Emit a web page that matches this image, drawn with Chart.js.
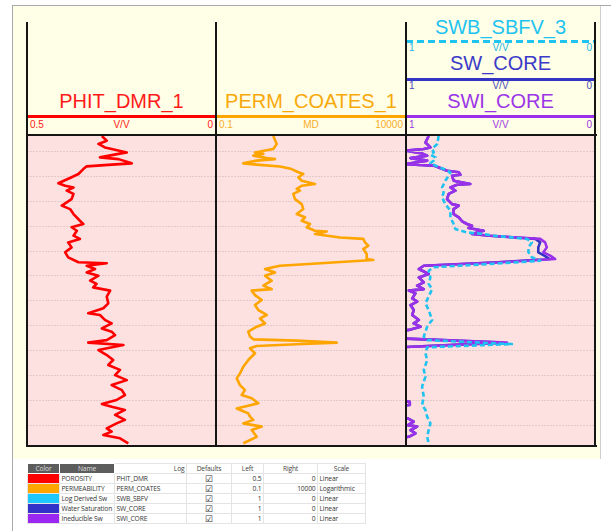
<!DOCTYPE html>
<html>
<head>
<meta charset="utf-8">
<script src="https://cdn.jsdelivr.net/npm/chart.js@4.4.0/dist/chart.umd.min.js"></script>
<style>
body { margin:0; width:611px; height:531px; overflow:hidden; position:relative; background:#fff; font-family:"Liberation Sans", Arial, sans-serif; }
#frame { position:absolute; left:12px; top:5px; width:600px; height:530px; border-left:1px solid #a9a9a9; border-top:1px solid #a9a9a9; }
#panel { position:absolute; left:13px; top:6px; width:587px; height:453px; background:#fffee6; border-right:1px solid #cfcfcf; }
.vline { position:absolute; top:22px; width:2px; height:425px; background:#151515; z-index:5; }
.hline { position:absolute; left:26px; width:571px; height:2px; background:#151515; z-index:5; }
.trk { position:absolute; top:136px; height:309px; }
.title { position:absolute; font-size:20px; line-height:20px; text-align:center; white-space:nowrap; }
.cline { position:absolute; height:3px; }
.scale { position:absolute; font-size:10px; line-height:10px; height:10px; }
.scale span { position:absolute; top:0; white-space:nowrap; }
.scale .l { left:3px; }
.scale .c { left:0; right:0; text-align:center; }
.scale .r { right:3px; }
#props { position:absolute; left:27px; top:463px; width:338px; border-collapse:collapse; table-layout:fixed; font-family:"Open Sans", sans-serif; font-size:6.7px; letter-spacing:-0.15px; color:#333; }
#props td { height:9.8px; padding:0 1.5px; border:1px solid #e4e4e4; line-height:9px; white-space:nowrap; overflow:hidden; box-sizing:border-box; }
#props tr.head td { height:10px; background:#fff; color:#444; text-align:center; }
#props tr.head td.dark { background:#5d5d5d; color:#ddd; border-color:#fff; }
</style>
</head>
<body>
<div id="frame"></div>
<div id="panel"></div>

<!-- track 1 header -->
<div class="title" style="left:27px;width:189px;top:91px;color:#ff1a1a">PHIT_DMR_1</div>
<div class="cline" style="left:27px;width:189px;top:115px;background:#ff0000"></div>
<div class="scale" style="left:27px;width:189px;top:120px;color:#ff2020"><span class="l">0.5</span><span class="c">V/V</span><span class="r">0</span></div>

<!-- track 2 header -->
<div class="title" style="left:216px;width:190px;top:91px;color:#f8a90a">PERM_COATES_1</div>
<div class="cline" style="left:216px;width:190px;top:115px;background:#ffa500"></div>
<div class="scale" style="left:216px;width:190px;top:120px;color:#f6ad2a"><span class="l">0.1</span><span class="c">MD</span><span class="r">10000</span></div>

<!-- track 3 header -->
<div class="title" style="left:406px;width:189px;top:17px;color:#1ec3f0">SWB_SBFV_3</div>
<div class="cline" style="left:406px;width:189px;top:40px;background:repeating-linear-gradient(to right,#1ec3f0 0 7px,transparent 7px 11px)"></div>
<div class="scale" style="left:406px;width:189px;top:43px;color:#2ab6e6"><span class="l">1</span><span class="c">V/V</span><span class="r">0</span></div>
<div class="title" style="left:406px;width:189px;top:53px;color:#3b3bc8">SW_CORE</div>
<div class="cline" style="left:406px;width:189px;top:78px;background:#3434c4"></div>
<div class="scale" style="left:406px;width:189px;top:81px;color:#4a4ab8"><span class="l">1</span><span class="c">V/V</span><span class="r">0</span></div>
<div class="title" style="left:406px;width:189px;top:91px;color:#9b35e8">SWI_CORE</div>
<div class="cline" style="left:406px;width:189px;top:115px;background:#9a30ea"></div>
<div class="scale" style="left:406px;width:189px;top:120px;color:#9b3ae0"><span class="l">1</span><span class="c">V/V</span><span class="r">0</span></div>

<canvas id="trk1" class="trk" style="left:27px" width="189" height="309"></canvas>
<canvas id="trk2" class="trk" style="left:216px" width="190" height="309"></canvas>
<canvas id="trk3" class="trk" style="left:406px" width="189" height="309"></canvas>

<div class="vline" style="left:26px"></div>
<div class="vline" style="left:215px"></div>
<div class="vline" style="left:405px"></div>
<div class="vline" style="left:594px"></div>
<div class="hline" style="top:134px"></div>
<div class="hline" style="top:445px"></div>

<table id="props"></table>

<script>
// Depth window (m) and grid depths
const topDepth = 1003.7;
const baseDepth = 1128;
const gridDepths = [1010, 1020, 1030, 1040, 1050, 1060, 1070, 1080, 1090, 1100, 1110, 1120];

// PHIT_DMR_1 (v/v)
const phitDepth = [1003.7, 1005.6, 1006.9, 1008.3, 1008.9, 1010.3, 1010.9, 1012.3, 1013.0, 1014.7, 1015.2, 1015.9, 1017.0, 1019.0, 1020.3, 1022.7, 1023.7, 1024.4, 1025.7, 1027.0, 1029.1, 1031.7, 1033.1, 1035.1, 1037.8, 1039.1, 1040.4, 1041.8, 1043.8, 1045.1, 1046.5, 1048.5, 1050.5, 1052.5, 1054.5, 1054.9, 1055.9, 1057.2, 1058.6, 1059.9, 1061.9, 1063.2, 1064.6, 1065.9,
    1068.3, 1071.0, 1073.0, 1075.0, 1075.7, 1077.7, 1079.1, 1081.1, 1082.4, 1083.8, 1085.8, 1086.8, 1087.8, 1089.8, 1091.8, 1093.8, 1095.8, 1097.8, 1099.9, 1101.9, 1103.9, 1105.9, 1107.9, 1109.9, 1111.5, 1112.6, 1113.9, 1115.9, 1117.9, 1119.3, 1121.3, 1122.6, 1124.0, 1125.3, 1127.3];
const phitVal = [0.302, 0.289, 0.311, 0.294, 0.276, 0.236, 0.258, 0.307, 0.258, 0.223, 0.276, 0.342, 0.351, 0.364, 0.382, 0.417, 0.399, 0.377, 0.395, 0.377, 0.382, 0.408, 0.386, 0.377, 0.360, 0.351, 0.382, 0.368, 0.377, 0.360, 0.391, 0.382, 0.399, 0.391, 0.364, 0.289, 0.342, 0.320, 0.342, 0.311, 0.333, 0.316, 0.325, 0.280,
    0.289, 0.285, 0.298, 0.338, 0.307, 0.294, 0.276, 0.302, 0.276, 0.267, 0.289, 0.338, 0.245, 0.311, 0.289, 0.272, 0.285, 0.254, 0.267, 0.236, 0.276, 0.249, 0.241, 0.263, 0.302, 0.276, 0.241, 0.267, 0.241, 0.263, 0.289, 0.276, 0.298, 0.254, 0.232];

// PERM_COATES_1 (mD)
const permDepth = [1003.7, 1006.9, 1008.9, 1010.3, 1010.9, 1011.6, 1012.6, 1013.0, 1013.6, 1014.7, 1015.2, 1016.0, 1017.0, 1018.3, 1019.0, 1020.3, 1021.7, 1023.0, 1023.7, 1025.0, 1025.7, 1027.0, 1029.1, 1031.1, 1033.1, 1035.1, 1036.4, 1037.8, 1039.1, 1040.4, 1041.8, 1042.1, 1043.1, 1044.5, 1045.1, 1046.5, 1047.8, 1049.2, 1051.2, 1053.2, 1053.6, 1055.9, 1057.2, 1058.6, 1059.9, 1061.9, 1063.9, 1065.3, 1065.9,
    1067.7, 1069.7, 1071.7, 1073.7, 1075.7, 1077.1, 1079.1, 1080.4, 1082.4, 1084.4, 1085.5, 1086.0, 1086.8, 1087.5, 1088.2, 1089.1, 1091.1, 1093.8, 1096.5, 1099.2, 1101.2, 1103.9, 1105.9, 1107.9, 1109.2, 1111.2, 1113.3, 1115.3, 1116.6, 1117.9, 1119.3, 1120.6, 1122.0, 1124.7, 1127.3];
const permVal = [3.22, 3.96, 3.22, 1.06, 1.76, 0.96, 2.16, 3.57, 1.18, 0.52, 1.18, 4.83, 9.8, 14.7, 19.8, 14.7, 18.0, 40.3, 18.0, 13.3, 16.2, 10.8, 12.0, 18.0, 19.8, 13.3, 22.0, 18.0, 29.8, 24.4, 40.3, 81.9, 40.3, 183, 752, 834, 1019, 752, 925, 925, 1378, 4.83, 1.95, 3.57, 1.95, 2.92, 1.76, 2.92, 0.87,
    1.06, 1.60, 1.06, 1.30, 2.16, 1.44, 1.95, 1.18, 0.708, 0.785, 0.96, 13.3, 150, 13.3, 1.18, 0.785, 1.06, 0.708, 0.523, 0.428, 0.351, 0.428, 0.579, 0.474, 0.87, 1.30, 0.351, 0.708, 0.785, 0.96, 0.523, 1.6, 0.87, 1.18, 0.523];

// SWB_SBFV_3 (v/v)
const swbDepth = [1003.7, 1006.9, 1008.9, 1010.3, 1011.2, 1012.3, 1013.6, 1014.7, 1015.6, 1017.0, 1018.3, 1019.7, 1021.7, 1024.4, 1026.4, 1028.4, 1031.1, 1033.7, 1036.4, 1039.1, 1041.1, 1042.5, 1043.1, 1043.8, 1045.1, 1046.5, 1048.5, 1050.5, 1052.5, 1053.9, 1054.9, 1056.5, 1057.9, 1060.6, 1063.2, 1065.3,
    1068.3, 1071.0, 1073.7, 1077.7, 1080.4, 1082.4, 1084.4, 1085.8, 1087.4, 1088.7, 1091.1, 1093.8, 1097.8, 1100.5, 1104.5, 1108.6, 1111.9, 1113.9, 1116.6, 1119.3, 1122.0, 1124.7, 1127.3];
const swbVal = [0.827, 0.835, 0.862, 0.853, 0.871, 0.844, 0.853, 0.871, 0.844, 0.80, 0.765, 0.774, 0.792, 0.809, 0.801, 0.809, 0.792, 0.765, 0.765, 0.748, 0.739, 0.677, 0.589, 0.537, 0.360, 0.334, 0.352, 0.352, 0.334, 0.290, 0.50, 0.853, 0.880, 0.871, 0.880, 0.862,
    0.880, 0.897, 0.880, 0.862, 0.888, 0.897, 0.906, 0.888, 0.440, 0.888, 0.897, 0.888, 0.906, 0.897, 0.915, 0.906, 0.915, 0.897, 0.888, 0.871, 0.880, 0.888, 0.880];

// SWI_CORE and SW_CORE (v/v), same core depths
const coreDepth = [1003.7, 1006.3, 1008.3, 1008.9, 1009.6, 1010.7, 1011.6, 1012.6, 1013.6, 1015.0, 1015.6, 1017.7, 1018.3, 1019.3, 1019.7, 1021.7, 1023.0, 1023.3, 1024.4, 1025.7, 1027.0, 1029.1, 1031.1, 1031.7, 1033.1, 1035.1, 1036.4, 1038.0, 1039.1, 1039.8, 1040.7, 1041.8, 1043.1, 1043.8, 1044.5, 1045.1, 1046.5, 1048.5, 1050.5, 1051.8, 1053.2, 1054.5, 1055.9, 1057.2, 1059.2, 1060.6, 1062.6, 1063.9, 1065.3, 1065.9,
    1067.0, 1069.0, 1070.3, 1071.7, 1073.7, 1075.7, 1077.7, 1079.1, 1080.4, 1081.7, 1082.4, 1085.1, 1086.8, 1088.7, 1110.2, 1110.6, 1111.9, 1112.3, 1116.9, 1117.3, 1118.6, 1120.0, 1120.6, 1122.0, 1123.3, 1124.7, 1125.2, 1128.0];
const swiVal = [0.880, 0.897, 0.871, 0.906, 1.0, 0.915, 0.888, 0.976, 0.888, 1.0, 0.853, 0.783, 0.721, 0.712, 0.756, 0.748, 0.660, 0.730, 0.765, 0.739, 0.774, 0.783, 0.756, 0.721, 0.748, 0.748, 0.721, 0.703, 0.677, 0.651, 0.669, 0.589, 0.651, 0.554, 0.413, 0.290, 0.264, 0.255, 0.273, 0.237, 0.211, 0.501, 0.906, 0.932, 0.880, 0.932, 0.906, 0.941, 0.906, 0.985,
    0.950, 0.967, 0.941, 0.976, 0.959, 0.967, 0.932, 0.959, 0.923, 0.985, 1.04, 1.04, 0.466, 1.04, 1.04, 0.98, 0.98, 1.04, 1.04, 0.99, 0.959, 0.99, 0.941, 0.976, 0.950, 0.985, 1.04, 1.04];
const swVal = [0.880, 0.897, 0.871, 0.906, 1.0, 0.915, 0.888, 0.976, 0.888, 1.0, 0.853, 0.783, 0.721, 0.712, 0.756, 0.748, 0.660, 0.730, 0.765, 0.739, 0.774, 0.783, 0.756, 0.721, 0.748, 0.748, 0.721, 0.703, 0.677, 0.651, 0.669, 0.589, 0.651, 0.556, 0.420, 0.315, 0.290, 0.300, 0.300, 0.268, 0.240, 0.515, 0.906, 0.932, 0.880, 0.932, 0.906, 0.941, 0.906, 0.985,
    0.950, 0.967, 0.941, 0.976, 0.959, 0.967, 0.932, 0.959, 0.923, 0.985, 1.04, 1.04, 0.49, 1.04, 1.04, 0.98, 0.98, 1.04, 1.04, 0.99, 0.959, 0.99, 0.941, 0.976, 0.950, 0.985, 1.04, 1.04];

// Properties table
const propHeaders = ['Color', 'Name', 'Log', 'Defaults', 'Left', 'Right', 'Scale'];
const propColors = ['#ff0000', '#ffa500', '#1ec8ff', '#3232c8', '#9b28f0'];
const propNames = ['POROSITY', 'PERMEABILITY', 'Log Derived Sw', 'Water Saturation', 'Ineducible Sw'];
const propLogs = ['PHIT_DMR', 'PERM_COATES', 'SWB_SBFV', 'SW_CORE', 'SWI_CORE'];
const propLeft = ['0.5', '0.1', '1', '1', '1'];
const propRight = ['0', '10000', '0', '0', '0'];
const propScale = ['Linear', 'Logarithmic', 'Linear', 'Linear', 'Linear'];
const colWidths = [32, 55, 72, 45, 32, 54, 48];

function toPoints(depths, vals) {
    return depths.map((d, i) => ({ x: vals[i], y: d }));
}

// pink track fill
const trackFill = {
    id: 'trackFill',
    beforeDraw(chart) {
        const a = chart.chartArea;
        const ctx = chart.ctx;
        ctx.save();
        ctx.fillStyle = '#fde0e0';
        ctx.fillRect(a.left, a.top, a.right - a.left, a.bottom - a.top);
        ctx.restore();
    }
};

function curve(depths, vals, color, dash) {
    return {
        data: toPoints(depths, vals),
        showLine: true,
        borderColor: color,
        borderWidth: 2.6,
        borderDash: dash || [],
        borderJoinStyle: 'round',
        pointRadius: 0,
        clip: 0
    };
}

function trackChart(id, xScale, datasets) {
    new Chart(document.getElementById(id), {
        type: 'scatter',
        data: { datasets: datasets },
        options: {
            responsive: false,
            animation: false,
            layout: { padding: 0 },
            plugins: { legend: { display: false }, tooltip: { enabled: false } },
            scales: {
                x: Object.assign({ display: false }, xScale),
                y: {
                    reverse: true,
                    min: topDepth,
                    max: baseDepth,
                    ticks: { display: false },
                    border: { display: false, dash: [2, 1] },
                    grid: { color: 'rgba(170,150,150,0.3)', lineWidth: 1, drawTicks: false },
                    afterBuildTicks: s => { s.ticks = gridDepths.map(v => ({ value: v })); },
                    afterFit: s => { s.width = 0; }
                }
            }
        },
        plugins: [trackFill]
    });
}

trackChart('trk1', { type: 'linear', min: 0, max: 0.5, reverse: true },
    [curve(phitDepth, phitVal, '#ff0000')]);

trackChart('trk2', { type: 'logarithmic', min: 0.1, max: 10000 },
    [curve(permDepth, permVal, '#ffa500')]);

// first dataset is drawn on top
trackChart('trk3', { type: 'linear', min: 0, max: 1, reverse: true }, [
    curve(swbDepth, swbVal, '#1ec3f0', [5, 3]),
    curve(coreDepth, swiVal, '#9a30ea'),
    curve(coreDepth, swVal, '#3434c4')
]);

// build the properties table
const table = document.getElementById('props');
const colgroup = document.createElement('colgroup');
colWidths.forEach(w => {
    const c = document.createElement('col');
    c.style.width = w + 'px';
    colgroup.appendChild(c);
});
table.appendChild(colgroup);

const head = document.createElement('tr');
head.className = 'head';
propHeaders.forEach((h, i) => {
    const td = document.createElement('td');
    td.textContent = h;
    if (i < 2) td.className = 'dark';
    if (i === 2) td.style.textAlign = 'right';
    head.appendChild(td);
});
table.appendChild(head);

propNames.forEach((name, r) => {
    const tr = document.createElement('tr');
    const cells = ['', name, propLogs[r], '\u2611', propLeft[r], propRight[r], propScale[r]];
    const aligns = ['left', 'left', 'left', 'center', 'right', 'right', 'left'];
    cells.forEach((txt, i) => {
        const td = document.createElement('td');
        td.textContent = txt;
        td.style.textAlign = aligns[i];
        if (i === 0) td.style.background = propColors[r];
        if (i === 3) td.style.fontSize = '9px';
        tr.appendChild(td);
    });
    table.appendChild(tr);
});
</script>
</body>
</html>
